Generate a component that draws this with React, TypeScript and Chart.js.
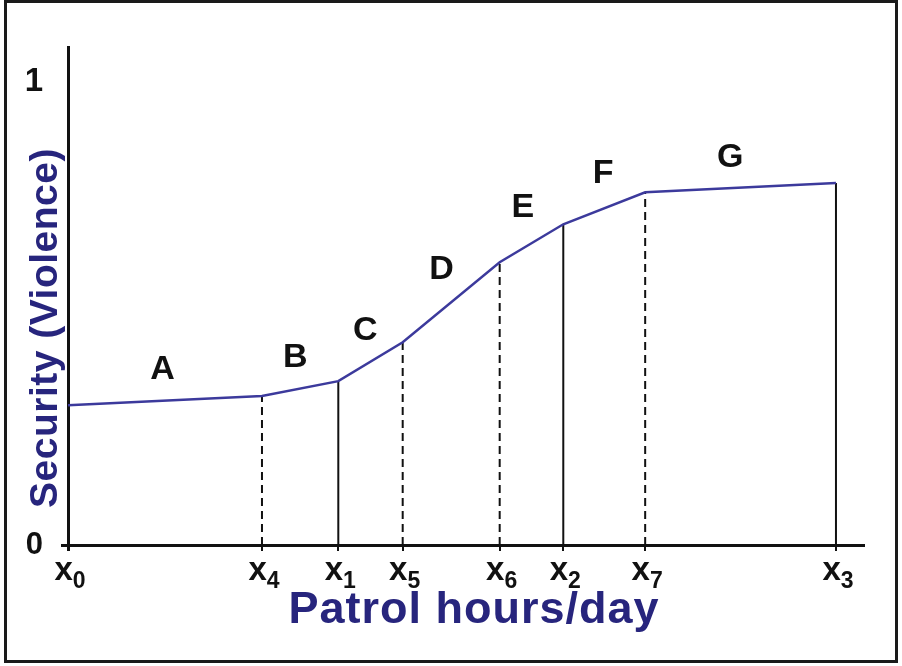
import { useEffect, useRef } from 'react';
import { Chart, registerables } from 'chart.js';

Chart.register(...registerables);

const FONT = '"Liberation Sans", Arial, Helvetica, sans-serif';

// x positions of the marked patrol-hour levels (axis units 0..10)
const xSubscripts = ['0', '4', '1', '5', '6', '2', '7', '3'];
const xValues = [0, 2.44, 3.4, 4.21, 5.43, 6.23, 7.26, 9.66];
// security level at each marked x
const securityValues = [0.302, 0.322, 0.354, 0.438, 0.611, 0.693, 0.762, 0.782];
// style of the vertical drop line at each marked x
const dropStyles = ['none', 'dashed', 'solid', 'dashed', 'dashed', 'solid', 'dashed', 'solid'];
// segment labels
const segmentLetters = ['A', 'B', 'C', 'D', 'E', 'F', 'G'];
const letterX = [1.19, 2.86, 3.74, 4.7, 5.72, 6.73, 8.33];
const letterY = [0.378, 0.404, 0.464, 0.594, 0.728, 0.803, 0.838];
// y ticks
const yTickValues = [0, 1];

const CURVE_COLOR = '#3c3a9c';
const TITLE_COLOR = '#27257d';
const INK = '#111111';

export default function App() {
  const ref = useRef<HTMLCanvasElement>(null);

  useEffect(() => {
    document.body.style.margin = '0';
    const canvas = ref.current;
    if (!canvas) return;

    const curve = {
      label: 'curve',
      data: xValues.map((x, i) => ({ x, y: securityValues[i] })),
      showLine: true,
      borderColor: CURVE_COLOR,
      borderWidth: 2.5,
      pointRadius: 0,
      tension: 0,
    };

    const drops = xValues
      .map((x, i) => ({ x, i }))
      .filter(({ i }) => dropStyles[i] !== 'none')
      .map(({ x, i }) => ({
        label: 'drop' + i,
        data: [
          { x, y: 0 },
          { x, y: securityValues[i] },
        ],
        showLine: true,
        borderColor: INK,
        borderWidth: 2,
        borderDash: dropStyles[i] === 'dashed' ? [8, 5] : [],
        pointRadius: 0,
      }));

    const annotate = {
      id: 'annotate',
      afterDatasetsDraw(chart: any) {
        const ctx = chart.ctx as CanvasRenderingContext2D;
        const xs = chart.scales.x;
        const ys = chart.scales.y;
        ctx.save();
        ctx.fillStyle = INK;
        ctx.font = `bold 34px ${FONT}`;
        ctx.textAlign = 'center';
        ctx.textBaseline = 'middle';
        segmentLetters.forEach((l, i) => {
          ctx.fillText(l, xs.getPixelForValue(letterX[i]), ys.getPixelForValue(letterY[i]));
        });
        ctx.restore();
      },
      afterDraw(chart: any) {
        const ctx = chart.ctx as CanvasRenderingContext2D;
        const xs = chart.scales.x;
        ctx.save();
        ctx.fillStyle = INK;
        ctx.textAlign = 'left';
        ctx.textBaseline = 'alphabetic';
        xValues.forEach((v, i) => {
          const px = xs.getPixelForValue(v);
          ctx.font = `bold 33px ${FONT}`;
          const w1 = ctx.measureText('x').width;
          ctx.font = `bold 23px ${FONT}`;
          const w2 = ctx.measureText(xSubscripts[i]).width;
          const start = px - (w1 + w2) / 2 + 2;
          ctx.font = `bold 33px ${FONT}`;
          ctx.fillText('x', start, 580);
          ctx.font = `bold 23px ${FONT}`;
          ctx.fillText(xSubscripts[i], start + w1, 588);
        });

        // axis titles
        ctx.fillStyle = TITLE_COLOR;
        ctx.textAlign = 'center';
        ctx.font = `bold 45px ${FONT}`;
        (ctx as any).letterSpacing = '1px';
        ctx.fillText('Patrol hours/day', 474, 623);

        ctx.save();
        ctx.translate(46, 328);
        ctx.rotate(-Math.PI / 2);
        ctx.font = `bold 39px ${FONT}`;
        (ctx as any).letterSpacing = '0.5px';
        ctx.textBaseline = 'middle';
        ctx.fillText('Security (Violence)', 0, 0);
        ctx.restore();
        ctx.restore();
      },
    };

    const chart = new Chart(canvas, {
      type: 'scatter',
      data: { datasets: [curve, ...drops] as any },
      plugins: [annotate],
      options: {
        responsive: false,
        devicePixelRatio: 1,
        animation: false,
        layout: { padding: { left: 0, top: 47, right: 39, bottom: 0 } },
        plugins: {
          legend: { display: false },
          tooltip: { enabled: false },
        },
        scales: {
          x: {
            type: 'linear',
            min: 0,
            max: 10,
            afterBuildTicks: (scale: any) => {
              scale.ticks = xValues.map((v) => ({ value: v }));
            },
            afterFit: (scale: any) => {
              scale.height = 121;
            },
            ticks: { display: false },
            grid: {
              drawOnChartArea: false,
              drawTicks: true,
              tickLength: 6,
              color: INK,
              lineWidth: (c: any) => (c.tick && c.tick.value === 0 ? 3 : 2),
            },
            border: { display: true, color: INK, width: 3 },
          },
          y: {
            type: 'linear',
            min: 0,
            max: 1.076,
            afterBuildTicks: (scale: any) => {
              scale.ticks = yTickValues.map((v) => ({ value: v }));
            },
            afterFit: (scale: any) => {
              scale.width = 68;
            },
            ticks: {
              color: INK,
              padding: 18,
              font: (c: any) => ({
                family: FONT,
                weight: 'bold',
                size: c.tick && c.tick.value === 1 ? 33 : 31,
              }),
              callback: (v: any) => String(v),
            },
            grid: {
              drawOnChartArea: false,
              drawTicks: true,
              tickLength: 7,
              color: (c: any) => (c.tick && c.tick.value === 0 ? INK : 'rgba(0,0,0,0)'),
              lineWidth: 3,
            },
            border: { display: true, color: INK, width: 3 },
          },
        },
      } as any,
    });

    return () => chart.destroy();
  }, []);

  return (
    <div style={{ position: 'relative', width: 902, height: 666, background: '#fff' }}>
      <canvas ref={ref} width={902} height={666} style={{ position: 'absolute', left: 0, top: 0 }} />
      <div
        style={{
          position: 'absolute',
          left: 4,
          top: 0,
          width: 894,
          height: 663,
          boxSizing: 'border-box',
          border: '3px solid #1a1a1a',
          pointerEvents: 'none',
        }}
      />
    </div>
  );
}
